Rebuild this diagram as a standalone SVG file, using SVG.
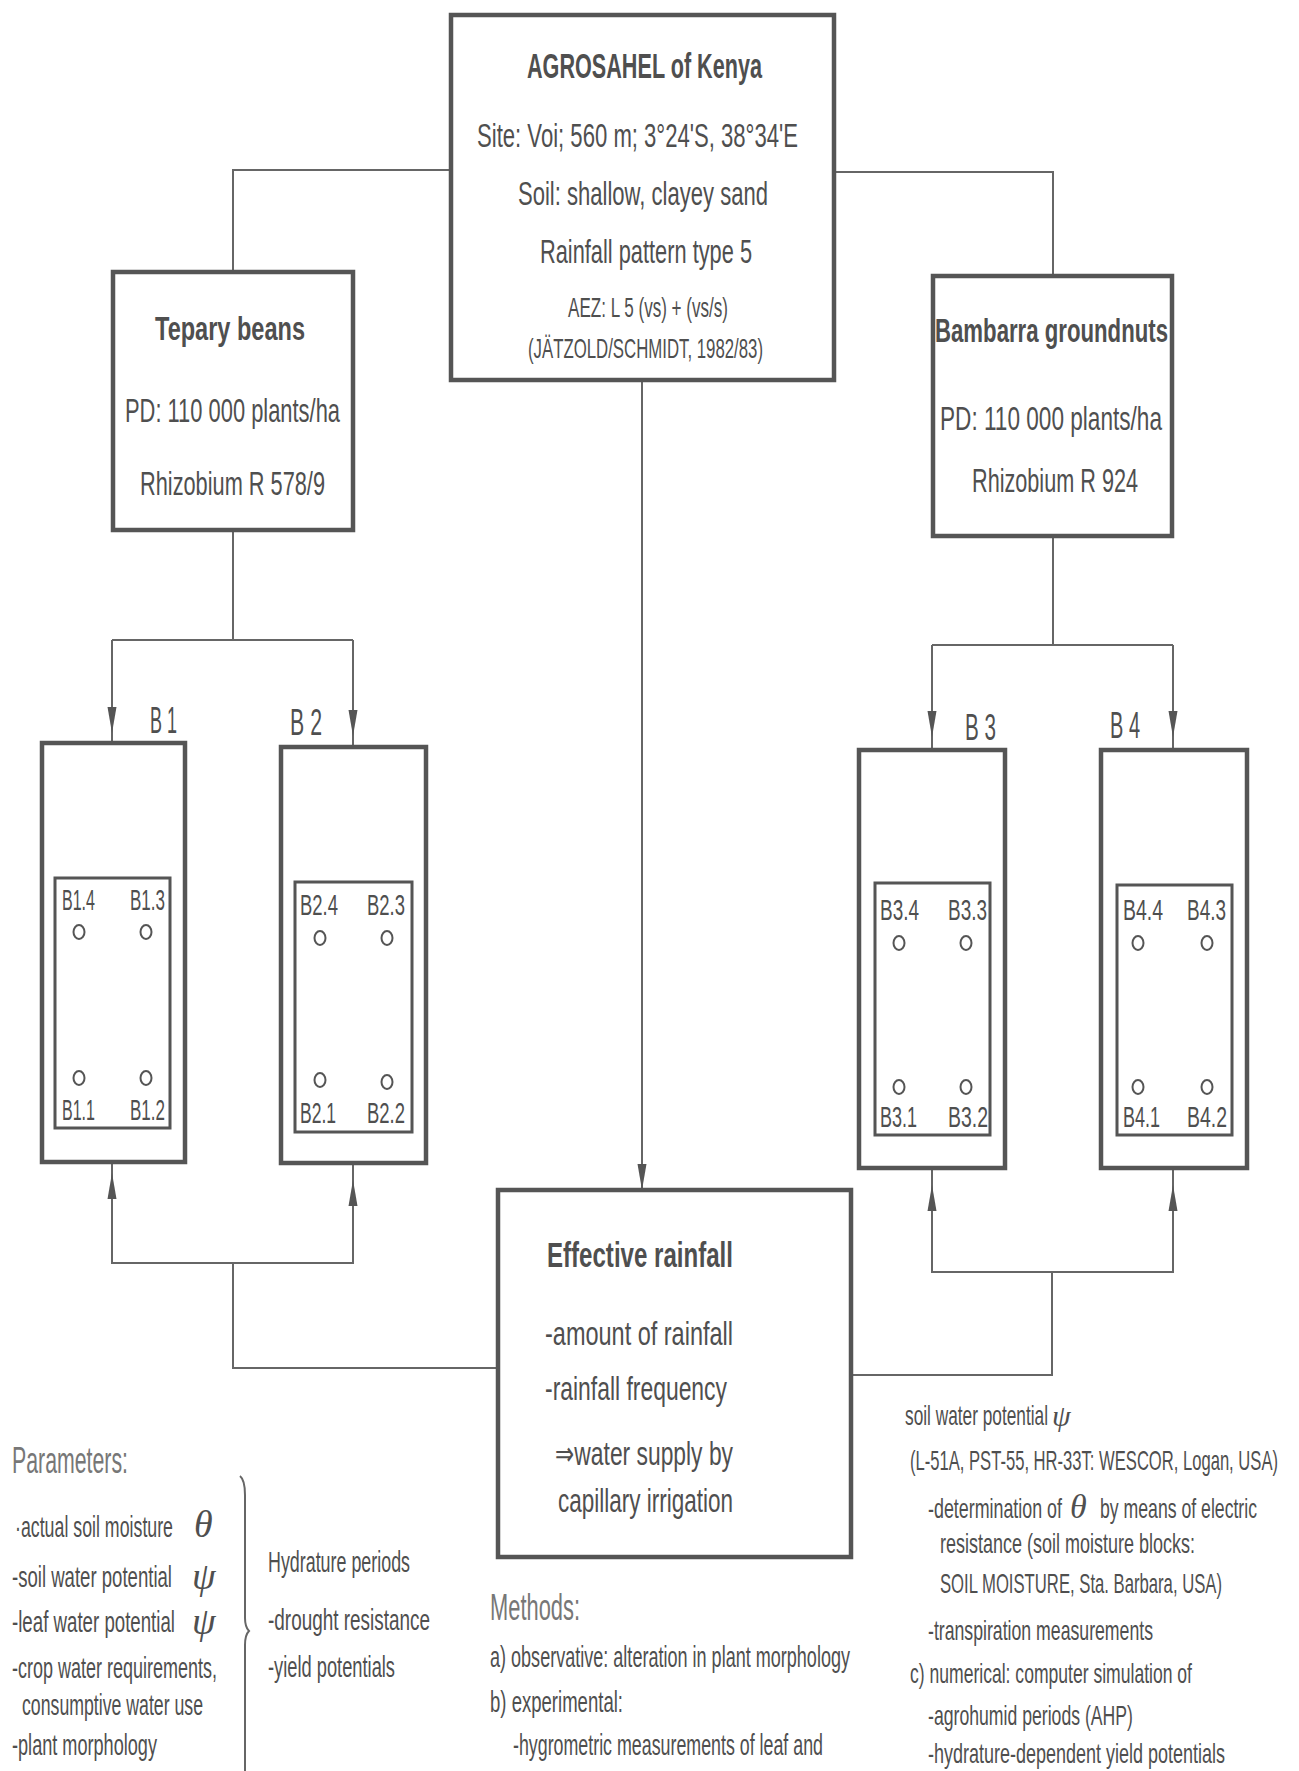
<svg xmlns="http://www.w3.org/2000/svg" xmlns:xlink="http://www.w3.org/1999/xlink" width="1299" height="1771" viewBox="0 0 1299 1771">
<style>
.box{fill:#fff;stroke:#555;stroke-width:4.5}
.inner{fill:none;stroke:#555;stroke-width:3}
.pt{fill:none;stroke:#555;stroke-width:2}
.ln{fill:none;stroke:#666;stroke-width:2}
.ah{fill:#555}
text{font-family:"Liberation Sans",Arial,sans-serif;fill:#4f4f4f}
.b{font-weight:bold}
.h{fill:#777}
.g{font-family:"Liberation Serif","Times New Roman",serif;font-style:italic}
</style>
<defs>
<path id="ad" d="M0,0 L-4.5,-26 L4.5,-26 Z"/>
<path id="au" d="M0,0 L-4.5,26 L4.5,26 Z"/>
</defs>
<rect width="1299" height="1771" fill="#fff"/>

<g id="connectors">
<path class="ln" d="M452,170 H233 V272"/>
<path class="ln" d="M834,172 H1053 V276"/>
<path class="ln" d="M642,380 V1190"/>
<path class="ln" d="M233,530 V640 M112,640 H353 M112,640 V878 M353,640 V882"/>
<path class="ln" d="M1053,536 V645 M932,645 H1173 M932,645 V883 M1173,645 V885"/>
<path class="ln" d="M112,1162 V1263 H353 V1163 M233,1263 V1368 H498"/>
<path class="ln" d="M932,1168 V1272 H1173 V1168 M1052,1272 V1375 H851"/>
<g class="ah">
<use xlink:href="#ad" x="112" y="733"/>
<use xlink:href="#ad" x="112" y="878"/>
<use xlink:href="#ad" x="353" y="736"/>
<use xlink:href="#ad" x="353" y="882"/>
<use xlink:href="#ad" x="932" y="737"/>
<use xlink:href="#ad" x="932" y="883"/>
<use xlink:href="#ad" x="1173" y="737"/>
<use xlink:href="#ad" x="1173" y="885"/>
<use xlink:href="#ad" x="642" y="1190"/>
<use xlink:href="#au" x="112" y="1173"/>
<use xlink:href="#au" x="353" y="1180"/>
<use xlink:href="#au" x="932" y="1185"/>
<use xlink:href="#au" x="1173" y="1185"/>
</g>
</g>

<g id="agrosahel">
<rect class="box" x="451" y="15" width="383" height="365"/>
<text class="b" x="527" y="78" font-size="35" textLength="235" lengthAdjust="spacingAndGlyphs">AGROSAHEL of Kenya</text>
<text x="477" y="147" font-size="33" textLength="321" lengthAdjust="spacingAndGlyphs">Site: Voi; 560 m; 3°24'S, 38°34'E</text>
<text x="518" y="205" font-size="33" textLength="250" lengthAdjust="spacingAndGlyphs">Soil: shallow, clayey sand</text>
<text x="540" y="263" font-size="33" textLength="212" lengthAdjust="spacingAndGlyphs">Rainfall pattern type 5</text>
<text x="568" y="317" font-size="28" textLength="160" lengthAdjust="spacingAndGlyphs">AEZ: L 5 (vs) + (vs/s)</text>
<text x="528" y="358" font-size="28" textLength="235" lengthAdjust="spacingAndGlyphs">(JÄTZOLD/SCHMIDT, 1982/83)</text>
</g>

<g id="tepary">
<rect class="box" x="113" y="272" width="240" height="258"/>
<text class="b" x="155" y="340" font-size="34" textLength="150" lengthAdjust="spacingAndGlyphs">Tepary  beans</text>
<text x="125" y="422" font-size="33" textLength="215" lengthAdjust="spacingAndGlyphs">PD: 110 000 plants/ha</text>
<text x="140" y="495" font-size="33" textLength="185" lengthAdjust="spacingAndGlyphs">Rhizobium R 578/9</text>
</g>

<g id="bambarra">
<rect class="box" x="933" y="276" width="239" height="260"/>
<text class="b" x="935" y="342" font-size="34" textLength="233" lengthAdjust="spacingAndGlyphs">Bambarra groundnuts</text>
<text x="940" y="430" font-size="33" textLength="222" lengthAdjust="spacingAndGlyphs">PD: 110 000 plants/ha</text>
<text x="972" y="492" font-size="33" textLength="166" lengthAdjust="spacingAndGlyphs">Rhizobium R 924</text>
</g>

<g id="B1">
<rect class="box" x="42" y="743" width="143" height="419"/>
<rect class="inner" x="55" y="878" width="115" height="250"/>
<text x="150" y="733" font-size="36" textLength="27" lengthAdjust="spacingAndGlyphs">B 1</text>
<text x="62" y="910" font-size="29" textLength="33" lengthAdjust="spacingAndGlyphs">B1.4</text>
<text x="130" y="910" font-size="29" textLength="35" lengthAdjust="spacingAndGlyphs">B1.3</text>
<ellipse class="pt" cx="79" cy="932" rx="5.5" ry="7"/>
<ellipse class="pt" cx="146" cy="932" rx="5.5" ry="7"/>
<ellipse class="pt" cx="79" cy="1078" rx="5.5" ry="7"/>
<ellipse class="pt" cx="146" cy="1078" rx="5.5" ry="7"/>
<text x="62" y="1120" font-size="29" textLength="33" lengthAdjust="spacingAndGlyphs">B1.1</text>
<text x="130" y="1120" font-size="29" textLength="35" lengthAdjust="spacingAndGlyphs">B1.2</text>
</g>

<g id="B2">
<rect class="box" x="281" y="747" width="145" height="416"/>
<rect class="inner" x="295" y="882" width="117" height="250"/>
<text x="290" y="735" font-size="36" textLength="32" lengthAdjust="spacingAndGlyphs">B 2</text>
<text x="300" y="915" font-size="29" textLength="38" lengthAdjust="spacingAndGlyphs">B2.4</text>
<text x="367" y="915" font-size="29" textLength="38" lengthAdjust="spacingAndGlyphs">B2.3</text>
<ellipse class="pt" cx="320" cy="938" rx="5.5" ry="7"/>
<ellipse class="pt" cx="387" cy="938" rx="5.5" ry="7"/>
<ellipse class="pt" cx="320" cy="1080" rx="5.5" ry="7"/>
<ellipse class="pt" cx="387" cy="1082" rx="5.5" ry="7"/>
<text x="300" y="1123" font-size="29" textLength="36" lengthAdjust="spacingAndGlyphs">B2.1</text>
<text x="367" y="1123" font-size="29" textLength="38" lengthAdjust="spacingAndGlyphs">B2.2</text>
</g>

<g id="B3">
<rect class="box" x="859" y="750" width="146" height="418"/>
<rect class="inner" x="875" y="883" width="115" height="252"/>
<text x="965" y="740" font-size="36" textLength="31" lengthAdjust="spacingAndGlyphs">B 3</text>
<text x="880" y="920" font-size="29" textLength="39" lengthAdjust="spacingAndGlyphs">B3.4</text>
<text x="948" y="920" font-size="29" textLength="39" lengthAdjust="spacingAndGlyphs">B3.3</text>
<ellipse class="pt" cx="899" cy="943" rx="5.5" ry="7"/>
<ellipse class="pt" cx="966" cy="943" rx="5.5" ry="7"/>
<ellipse class="pt" cx="899" cy="1087" rx="5.5" ry="7"/>
<ellipse class="pt" cx="966" cy="1087" rx="5.5" ry="7"/>
<text x="880" y="1127" font-size="29" textLength="37" lengthAdjust="spacingAndGlyphs">B3.1</text>
<text x="948" y="1127" font-size="29" textLength="40" lengthAdjust="spacingAndGlyphs">B3.2</text>
</g>

<g id="B4">
<rect class="box" x="1101" y="750" width="146" height="418"/>
<rect class="inner" x="1117" y="885" width="115" height="250"/>
<text x="1110" y="738" font-size="36" textLength="30" lengthAdjust="spacingAndGlyphs">B 4</text>
<text x="1123" y="920" font-size="29" textLength="40" lengthAdjust="spacingAndGlyphs">B4.4</text>
<text x="1187" y="920" font-size="29" textLength="39" lengthAdjust="spacingAndGlyphs">B4.3</text>
<ellipse class="pt" cx="1138" cy="943" rx="5.5" ry="7"/>
<ellipse class="pt" cx="1207" cy="943" rx="5.5" ry="7"/>
<ellipse class="pt" cx="1138" cy="1087" rx="5.5" ry="7"/>
<ellipse class="pt" cx="1207" cy="1087" rx="5.5" ry="7"/>
<text x="1123" y="1127" font-size="29" textLength="37" lengthAdjust="spacingAndGlyphs">B4.1</text>
<text x="1187" y="1127" font-size="29" textLength="40" lengthAdjust="spacingAndGlyphs">B4.2</text>
</g>

<g id="effective">
<rect class="box" x="498" y="1190" width="353" height="367"/>
<text class="b" x="547" y="1267" font-size="35" textLength="186" lengthAdjust="spacingAndGlyphs">Effective  rainfall</text>
<text x="545" y="1345" font-size="33" textLength="188" lengthAdjust="spacingAndGlyphs">-amount of rainfall</text>
<text x="545" y="1400" font-size="33" textLength="182" lengthAdjust="spacingAndGlyphs">-rainfall frequency</text>
<text x="555" y="1465" font-size="33" textLength="178" lengthAdjust="spacingAndGlyphs">⇒water supply by</text>
<text x="558" y="1512" font-size="33" textLength="175" lengthAdjust="spacingAndGlyphs">capillary irrigation</text>
</g>

<g id="parameters">
<text class="h" x="12" y="1473" font-size="36" textLength="116" lengthAdjust="spacingAndGlyphs">Parameters:</text>
<text x="15" y="1537" font-size="29" textLength="158" lengthAdjust="spacingAndGlyphs">·actual soil moisture</text>
<text class="g" x="194" y="1537" font-size="38">θ</text>
<text x="12" y="1587" font-size="29" textLength="160" lengthAdjust="spacingAndGlyphs">-soil water potential</text>
<text class="g" x="192" y="1589" font-size="38">ψ</text>
<text x="12" y="1632" font-size="29" textLength="163" lengthAdjust="spacingAndGlyphs">-leaf water potential</text>
<text class="g" x="192" y="1634" font-size="38">ψ</text>
<text x="12" y="1678" font-size="29" textLength="205" lengthAdjust="spacingAndGlyphs">-crop water requirements,</text>
<text x="22" y="1715" font-size="29" textLength="181" lengthAdjust="spacingAndGlyphs">consumptive water use</text>
<text x="12" y="1755" font-size="29" textLength="145" lengthAdjust="spacingAndGlyphs">-plant morphology</text>
<path class="ln" d="M240,1476 Q245,1480 245,1495 L245,1618 Q245,1627 249,1631 Q245,1635 245,1645 L245,1771" stroke-width="2.5"/>
<text x="268" y="1572" font-size="29" textLength="142" lengthAdjust="spacingAndGlyphs">Hydrature periods</text>
<text x="268" y="1630" font-size="29" textLength="162" lengthAdjust="spacingAndGlyphs">-drought  resistance</text>
<text x="268" y="1677" font-size="29" textLength="127" lengthAdjust="spacingAndGlyphs">-yield potentials</text>
</g>

<g id="methods">
<text class="h" x="490" y="1620" font-size="36" textLength="90" lengthAdjust="spacingAndGlyphs">Methods:</text>
<text x="490" y="1667" font-size="29" textLength="360" lengthAdjust="spacingAndGlyphs">a) observative: alteration in plant morphology</text>
<text x="490" y="1712" font-size="29" textLength="133" lengthAdjust="spacingAndGlyphs">b) experimental:</text>
<text x="513" y="1755" font-size="29" textLength="310" lengthAdjust="spacingAndGlyphs">-hygrometric measurements of leaf and</text>
<text x="905" y="1425" font-size="28" textLength="143" lengthAdjust="spacingAndGlyphs">soil water potential</text>
<text class="g" x="1052" y="1426" font-size="30">ψ</text>
<text x="910" y="1470" font-size="28" textLength="368" lengthAdjust="spacingAndGlyphs">(L-51A, PST-55, HR-33T: WESCOR, Logan, USA)</text>
<text x="928" y="1518" font-size="28" textLength="134" lengthAdjust="spacingAndGlyphs">-determination of</text>
<text class="g" x="1070" y="1518" font-size="34">θ</text>
<text x="1100" y="1518" font-size="28" textLength="157" lengthAdjust="spacingAndGlyphs">by means of electric</text>
<text x="940" y="1553" font-size="28" textLength="255" lengthAdjust="spacingAndGlyphs">resistance (soil moisture blocks:</text>
<text x="940" y="1593" font-size="28" textLength="282" lengthAdjust="spacingAndGlyphs">SOIL MOISTURE, Sta. Barbara, USA)</text>
<text x="928" y="1640" font-size="28" textLength="225" lengthAdjust="spacingAndGlyphs">-transpiration measurements</text>
<text x="910" y="1683" font-size="28" textLength="282" lengthAdjust="spacingAndGlyphs">c) numerical: computer simulation of</text>
<text x="928" y="1725" font-size="28" textLength="205" lengthAdjust="spacingAndGlyphs">-agrohumid periods (AHP)</text>
<text x="928" y="1763" font-size="28" textLength="297" lengthAdjust="spacingAndGlyphs">-hydrature-dependent yield potentials</text>
</g>
</svg>
